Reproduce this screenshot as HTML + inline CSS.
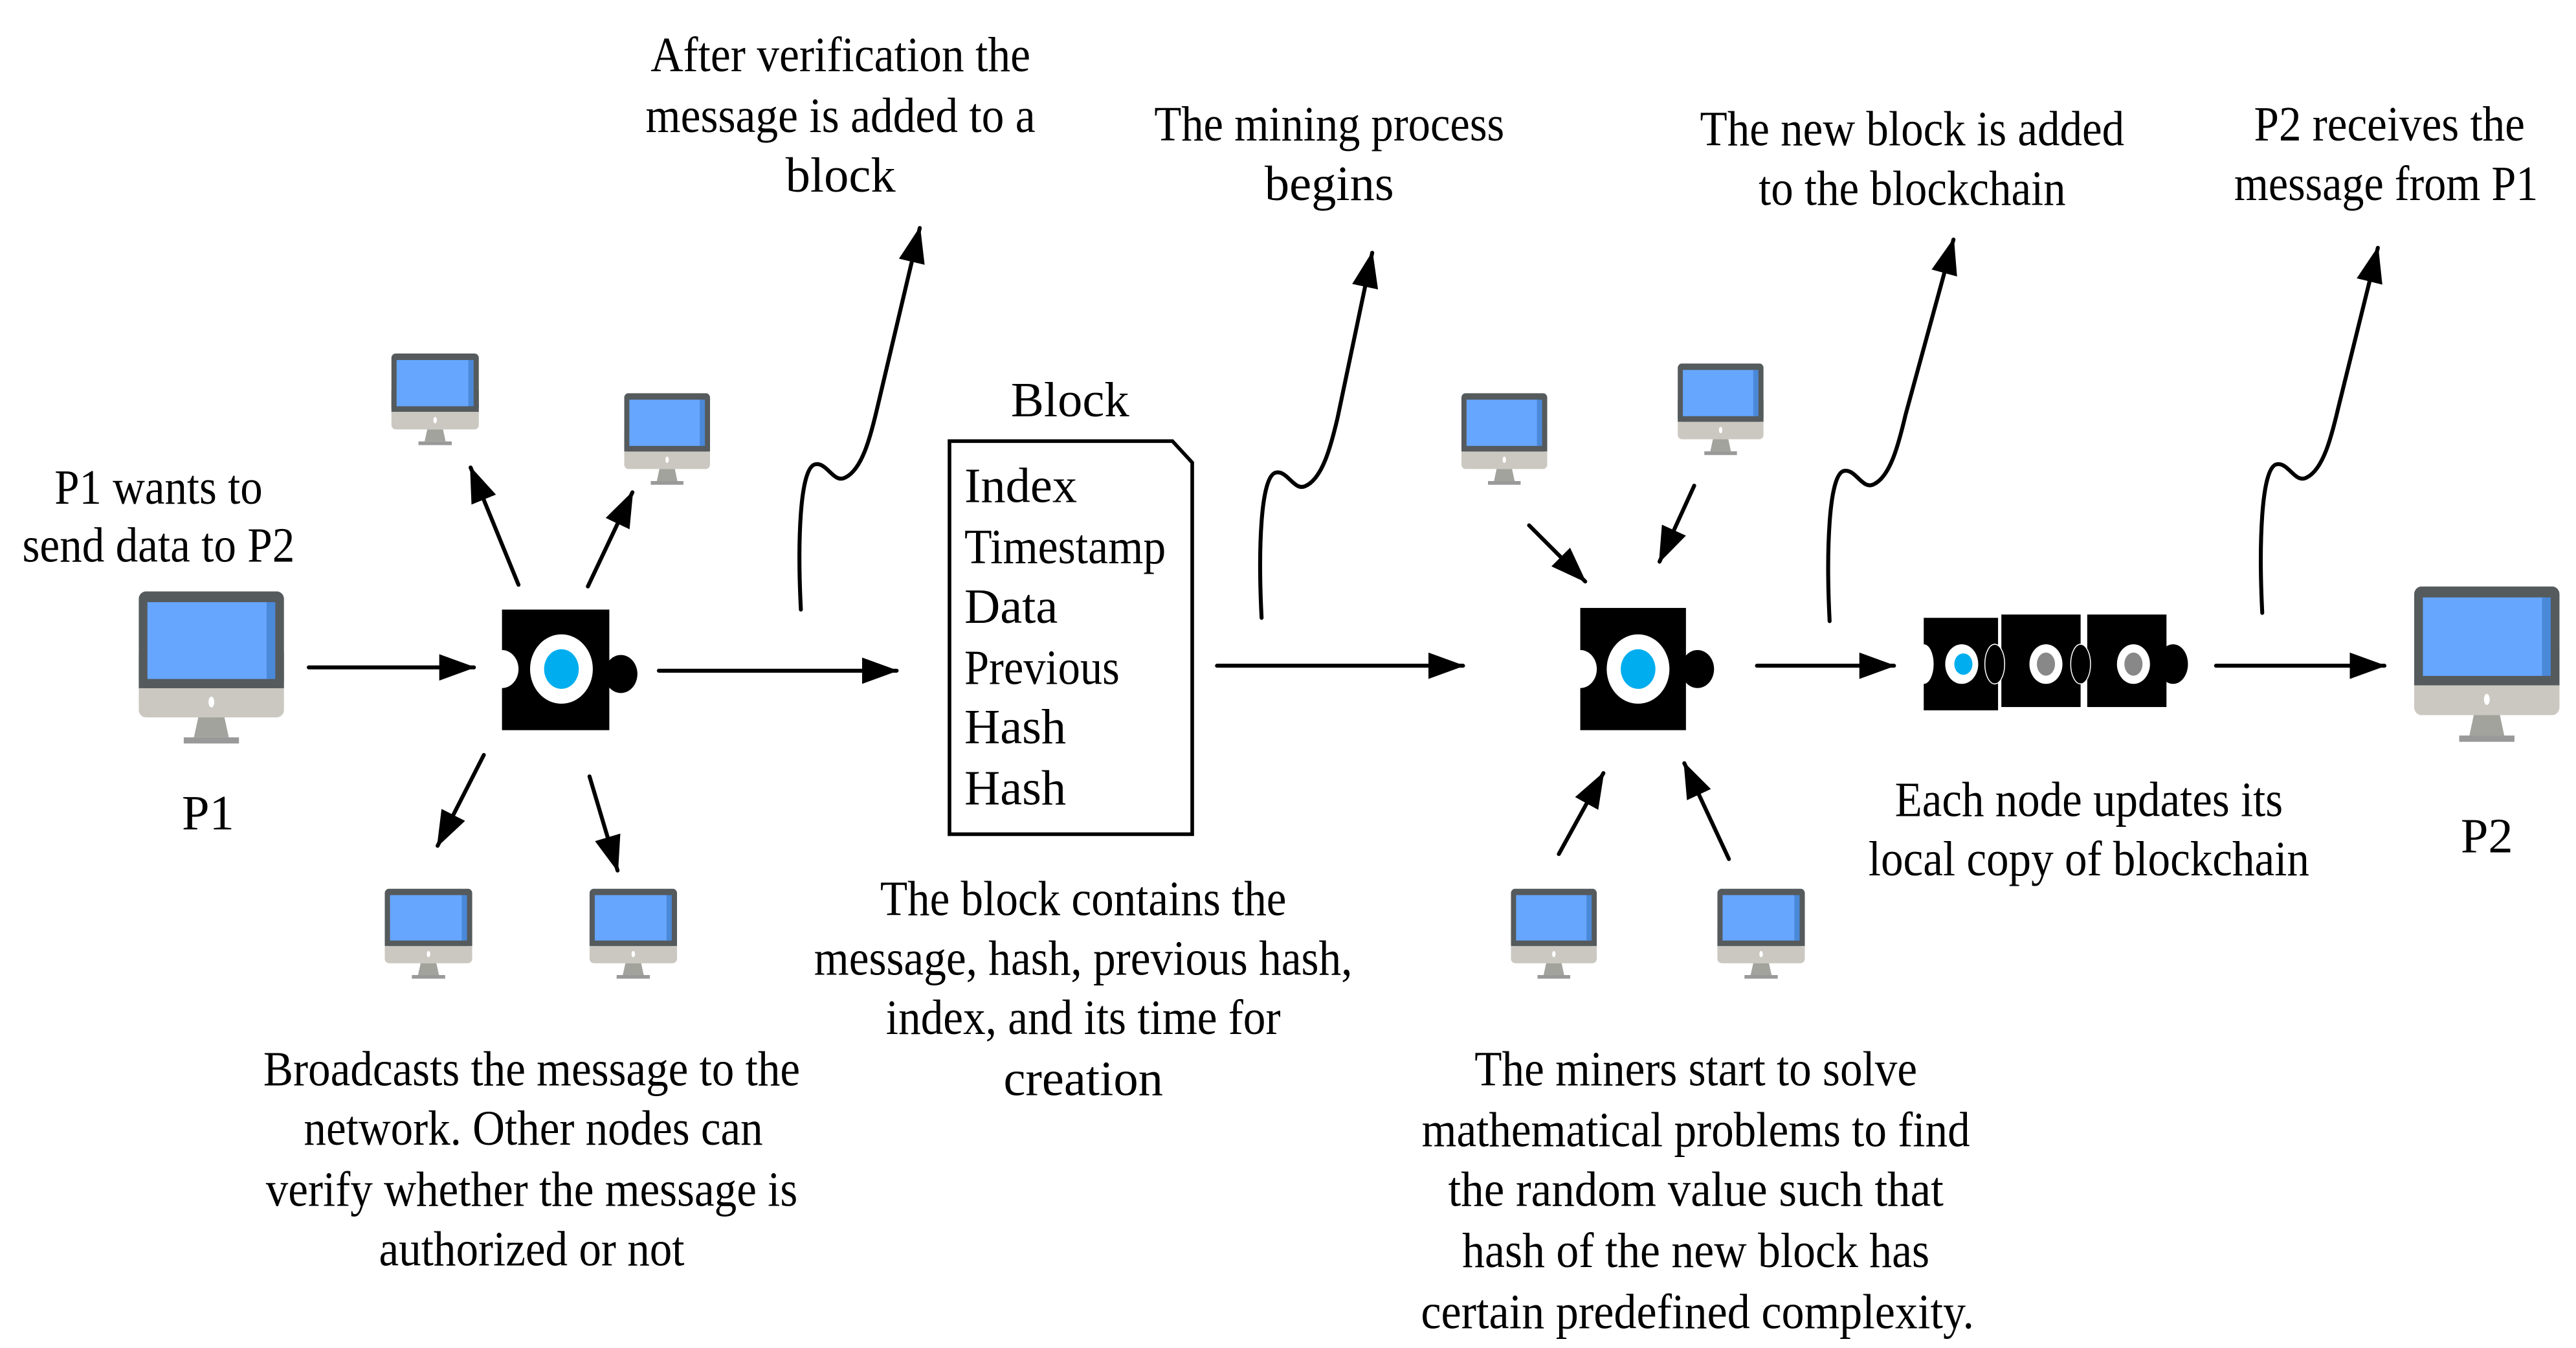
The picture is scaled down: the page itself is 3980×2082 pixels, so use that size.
<!DOCTYPE html>
<html><head><meta charset="utf-8"><style>
html,body{margin:0;padding:0;background:#fff;}
svg{display:block;}
text{font-family:"Liberation Serif","Times New Roman",serif;font-size:30px;fill:#000;}
</style></head><body>
<svg width="3980" height="2082" viewBox="0 0 1560 816" xmlns="http://www.w3.org/2000/svg">
<defs>
<marker id="ah" markerUnits="userSpaceOnUse" markerWidth="22" markerHeight="16" refX="21" refY="8" orient="auto">
<path d="M0,0 L22,8 L0,16 z" fill="#000"/>
</marker>
<symbol id="mon" viewBox="0 0 100 100" preserveAspectRatio="none">
<rect x="0" y="50" width="100" height="32" rx="5" fill="#cbc8c1"/>
<rect x="0" y="0" width="100" height="63" rx="5" fill="#555a5c"/>
<rect x="0" y="40" width="100" height="23" fill="#555a5c"/>
<rect x="6" y="7" width="84" height="50" fill="#66a6ff"/>
<rect x="88" y="7" width="6" height="50" fill="#4a88d8"/>
<ellipse cx="50" cy="72" rx="2" ry="3.5" fill="#fff"/>
<polygon points="41,82 59,82 62,95 38,95" fill="#a3a39e"/>
<rect x="31" y="95" width="38" height="4" fill="#999"/>
</symbol>
</defs>
<rect width="1560" height="816" fill="#fff"/>

<use href="#mon" x="84" y="358" width="88" height="93"/>
<use href="#mon" x="1462" y="355" width="88" height="95"/>
<use href="#mon" x="237" y="214" width="53" height="56"/>
<use href="#mon" x="378" y="238" width="52" height="56"/>
<use href="#mon" x="233" y="538" width="53" height="55"/>
<use href="#mon" x="357" y="538" width="53" height="55"/>
<use href="#mon" x="885" y="238" width="52" height="56"/>
<use href="#mon" x="1016" y="220" width="52" height="56"/>
<use href="#mon" x="915" y="538" width="52" height="55"/>
<use href="#mon" x="1040" y="538" width="53" height="55"/>

<rect x="304" y="369" width="65" height="73" fill="#000"/>
<ellipse cx="304" cy="405" rx="10" ry="11.5" fill="#fff"/>
<ellipse cx="376" cy="408" rx="10" ry="11.5" fill="#000"/>
<ellipse cx="340" cy="405" rx="19" ry="21" fill="#fff"/>
<ellipse cx="340" cy="405" rx="10.5" ry="12" fill="#00aeef"/>

<rect x="957" y="368" width="64" height="74" fill="#000"/>
<ellipse cx="957" cy="405" rx="10" ry="11.5" fill="#fff"/>
<ellipse cx="1028" cy="405" rx="10" ry="11.5" fill="#000"/>
<ellipse cx="992" cy="405" rx="19" ry="21" fill="#fff"/>
<ellipse cx="992" cy="405" rx="10.5" ry="12" fill="#00aeef"/>

<rect x="1165" y="374" width="45" height="56" fill="#000"/>
<rect x="1212" y="372" width="48" height="56" fill="#000"/>
<rect x="1264" y="372" width="48" height="56" fill="#000"/>
<ellipse cx="1165" cy="402" rx="6" ry="12" fill="#fff"/>
<ellipse cx="1208" cy="402" rx="6" ry="12" fill="#000" stroke="#fff" stroke-width="0.6"/>
<ellipse cx="1260" cy="402" rx="6" ry="12" fill="#000" stroke="#fff" stroke-width="0.6"/>
<ellipse cx="1316" cy="402" rx="9" ry="12" fill="#000"/>
<ellipse cx="1188" cy="402" rx="10" ry="12" fill="#fff"/>
<ellipse cx="1189" cy="402" rx="5.5" ry="6.5" fill="#00aeef"/>
<ellipse cx="1239" cy="402" rx="10" ry="12" fill="#fff"/>
<ellipse cx="1239" cy="402" rx="5.5" ry="7" fill="#888"/>
<ellipse cx="1292" cy="402" rx="10" ry="12" fill="#fff"/>
<ellipse cx="1292" cy="402" rx="5.5" ry="7" fill="#888"/>

<path d="M575,267 L710,267 L722,280 L722,505 L575,505 Z" fill="none" stroke="#000" stroke-width="2.2"/>

<g stroke="#000" stroke-width="2.4" fill="none" stroke-linecap="round" marker-end="url(#ah)">
<line x1="187" y1="404" x2="287" y2="404"/>
<line x1="399" y1="406" x2="543" y2="406"/>
<line x1="737" y1="403" x2="886" y2="403"/>
<line x1="1064" y1="403" x2="1147" y2="403"/>
<line x1="1342" y1="403" x2="1444" y2="403"/>
<line x1="314" y1="354" x2="285" y2="283"/>
<line x1="356" y1="355" x2="383" y2="298"/>
<line x1="293" y1="457" x2="265" y2="512"/>
<line x1="357" y1="470" x2="374" y2="527"/>
<line x1="926" y1="318" x2="960" y2="352"/>
<line x1="1026" y1="294" x2="1005" y2="340"/>
<line x1="944" y1="517" x2="971" y2="468"/>
<line x1="1047" y1="520" x2="1020" y2="462"/>
<path d="M485,369 C483,330 484,282 494,281 C501,280 505,293 512,289 C522,284 527,265 531,248 L557,138"/>
<path d="M764,374 C762,335 763,287 773,286 C780,285 784,298 791,294 C801,289 806,270 810,253 L831,153"/>
<path d="M1108,376 C1106,337 1107,286 1117,285 C1124,284 1128,297 1135,293 C1145,288 1150,268 1154,251 L1183,145"/>
<path d="M1370,371 C1368,332 1369,282 1379,281 C1386,280 1390,293 1397,289 C1407,284 1412,264 1416,247 L1440,150"/>
</g>

<g text-anchor="middle" font-family="Liberation Serif, Times New Roman, serif" font-size="30">
<text x="509" y="43" textLength="230" lengthAdjust="spacingAndGlyphs">After verification the</text>
<text x="509" y="80" textLength="236" lengthAdjust="spacingAndGlyphs">message is added to a</text>
<text x="509" y="116">block</text>
<text x="805" y="85" textLength="212" lengthAdjust="spacingAndGlyphs">The mining process</text>
<text x="805" y="121">begins</text>
<text x="1158" y="88" textLength="257" lengthAdjust="spacingAndGlyphs">The new block is added</text>
<text x="1158" y="124" textLength="186" lengthAdjust="spacingAndGlyphs">to the blockchain</text>
<text x="1447" y="85" textLength="164" lengthAdjust="spacingAndGlyphs">P2 receives the</text>
<text x="1445" y="121" textLength="184" lengthAdjust="spacingAndGlyphs">message from P1</text>
<text x="648" y="252">Block</text>
<text x="96" y="305" textLength="126" lengthAdjust="spacingAndGlyphs">P1 wants to</text>
<text x="96" y="340" textLength="165" lengthAdjust="spacingAndGlyphs">send data to P2</text>
<text x="126" y="502">P1</text>
<text x="1506" y="516">P2</text>
<text x="1265" y="494" textLength="235" lengthAdjust="spacingAndGlyphs">Each node updates its</text>
<text x="1265" y="530" textLength="267" lengthAdjust="spacingAndGlyphs">local copy of blockchain</text>
<text x="656" y="554" textLength="246" lengthAdjust="spacingAndGlyphs">The block contains the</text>
<text x="656" y="590" textLength="326" lengthAdjust="spacingAndGlyphs">message, hash, previous hash,</text>
<text x="656" y="626" textLength="239" lengthAdjust="spacingAndGlyphs">index, and its time for</text>
<text x="656" y="663">creation</text>
<text x="322" y="657" textLength="325" lengthAdjust="spacingAndGlyphs">Broadcasts the message to the</text>
<text x="323" y="693" textLength="278" lengthAdjust="spacingAndGlyphs">network. Other nodes can</text>
<text x="322" y="730" textLength="322" lengthAdjust="spacingAndGlyphs">verify whether the message is</text>
<text x="322" y="766" textLength="185" lengthAdjust="spacingAndGlyphs">authorized or not</text>
<text x="1027" y="657" textLength="268" lengthAdjust="spacingAndGlyphs">The miners start to solve</text>
<text x="1027" y="694" textLength="332" lengthAdjust="spacingAndGlyphs">mathematical problems to find</text>
<text x="1027" y="730" textLength="300" lengthAdjust="spacingAndGlyphs">the random  value such that</text>
<text x="1027" y="767" textLength="283" lengthAdjust="spacingAndGlyphs">hash of the new block has</text>
<text x="1028" y="804" textLength="335" lengthAdjust="spacingAndGlyphs">certain predefined complexity.</text>
</g>
<g font-family="Liberation Serif, Times New Roman, serif" font-size="30">
<text x="584" y="304">Index</text>
<text x="584" y="341" textLength="122" lengthAdjust="spacingAndGlyphs">Timestamp</text>
<text x="584" y="377">Data</text>
<text x="584" y="414" textLength="94" lengthAdjust="spacingAndGlyphs">Previous</text>
<text x="584" y="450">Hash</text>
<text x="584" y="487">Hash</text>
</g>
</svg>
</body></html>
